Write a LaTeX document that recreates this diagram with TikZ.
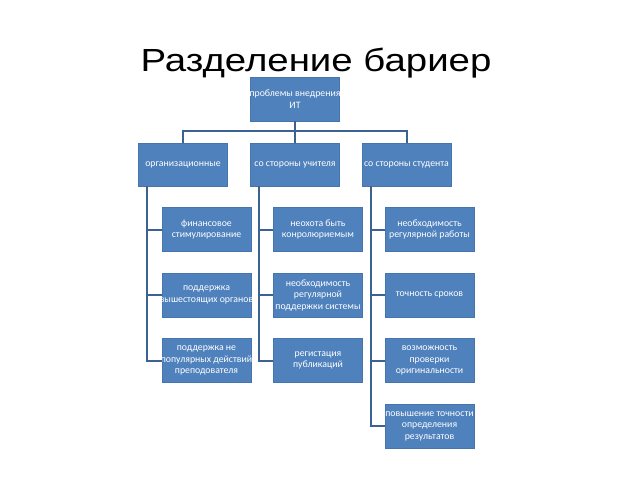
\documentclass[tikz,border=0pt]{standalone}
\usepackage{fontspec}
\setmainfont{Liberation Sans}
\newfontfamily\boxfont{Carlito}
\usetikzlibrary{positioning}
\definecolor{boxblue}{RGB}{79,129,189}
\definecolor{boxedge}{RGB}{70,116,172}
\definecolor{linkblue}{RGB}{60,98,148}
% a line that may run over the box edge
\newcommand{\overrun}[1]{\makebox[0pt]{#1}}

\begin{document}
\begin{tikzpicture}[x=1pt, y=-1pt,
  topic/.style={draw=boxedge, fill=boxblue, line width=0.6pt, minimum width=89pt,
    minimum height=44pt, inner sep=0pt, align=center, text=white,
    font=\boxfont\fontsize{9.8}{11.5}\selectfont},
  link/.style={draw=linkblue, line width=2pt}]
  \useasboundingbox[fill=white] (0,0) rectangle (640,480);

  % title
  \node[anchor=base, font=\fontsize{32}{32}\selectfont] (title) at (316,71)
    {\scalebox{1.2}[1]{Разделение бариер}};

  % top and second level
  \node[topic] (root) at (295,99) {\overrun{проблемы внедрения}\\ИТ};
  \node[topic, minimum height=43pt] (org) at (183,164.5) {организационные};
  \node[topic, minimum height=43pt] (teach) at (295,164.5) {со стороны  учителя};
  \node[topic, minimum height=43pt] (stud) at (406.5,164.5) {со стороны  студента};

  % organisational
  \node[topic] (org1) at (206.5,229.5) {финансовое\\стимулирование};
  \node[topic] (org2) at (206.5,295) {поддержка\\\overrun{вышестоящих органов}};
  \node[topic] (org3) at (206.5,360.5) {поддержка не\\\overrun{популярных действий}\\преподователя};

  % teacher
  \node[topic] (teach1) at (318,229.5) {неохота быть\\конролюриемым};
  \node[topic] (teach2) at (318,295) {необходимость\\регулярной\\поддержки системы};
  \node[topic] (teach3) at (318,360.5) {регистация\\публикаций};

  % student
  \node[topic] (stud1) at (429.5,229.5) {необходимость\\регулярной работы};
  \node[topic] (stud2) at (429.5,295) {точность сроков};
  \node[topic] (stud3) at (429.5,360.5) {возможность\\проверки\\оригинальности};
  \node[topic] (stud4) at (429.5,426) {\overrun{повышение точности}\\определения\\результатов};

  % connectors
  \coordinate (bus) at (295,131);
  \draw[link] (root.south) -- (bus);
  \foreach \n in {org, teach, stud}
    \draw[link] (bus) -| (\n.north);

  \foreach \n/\k in {org/org1, org/org2, org/org3,
      teach/teach1, teach/teach2, teach/teach3,
      stud/stud1, stud/stud2, stud/stud3, stud/stud4}
    \draw[link] ([xshift=9pt]\n.south west) |- (\k.west);

\end{tikzpicture}
\end{document}
